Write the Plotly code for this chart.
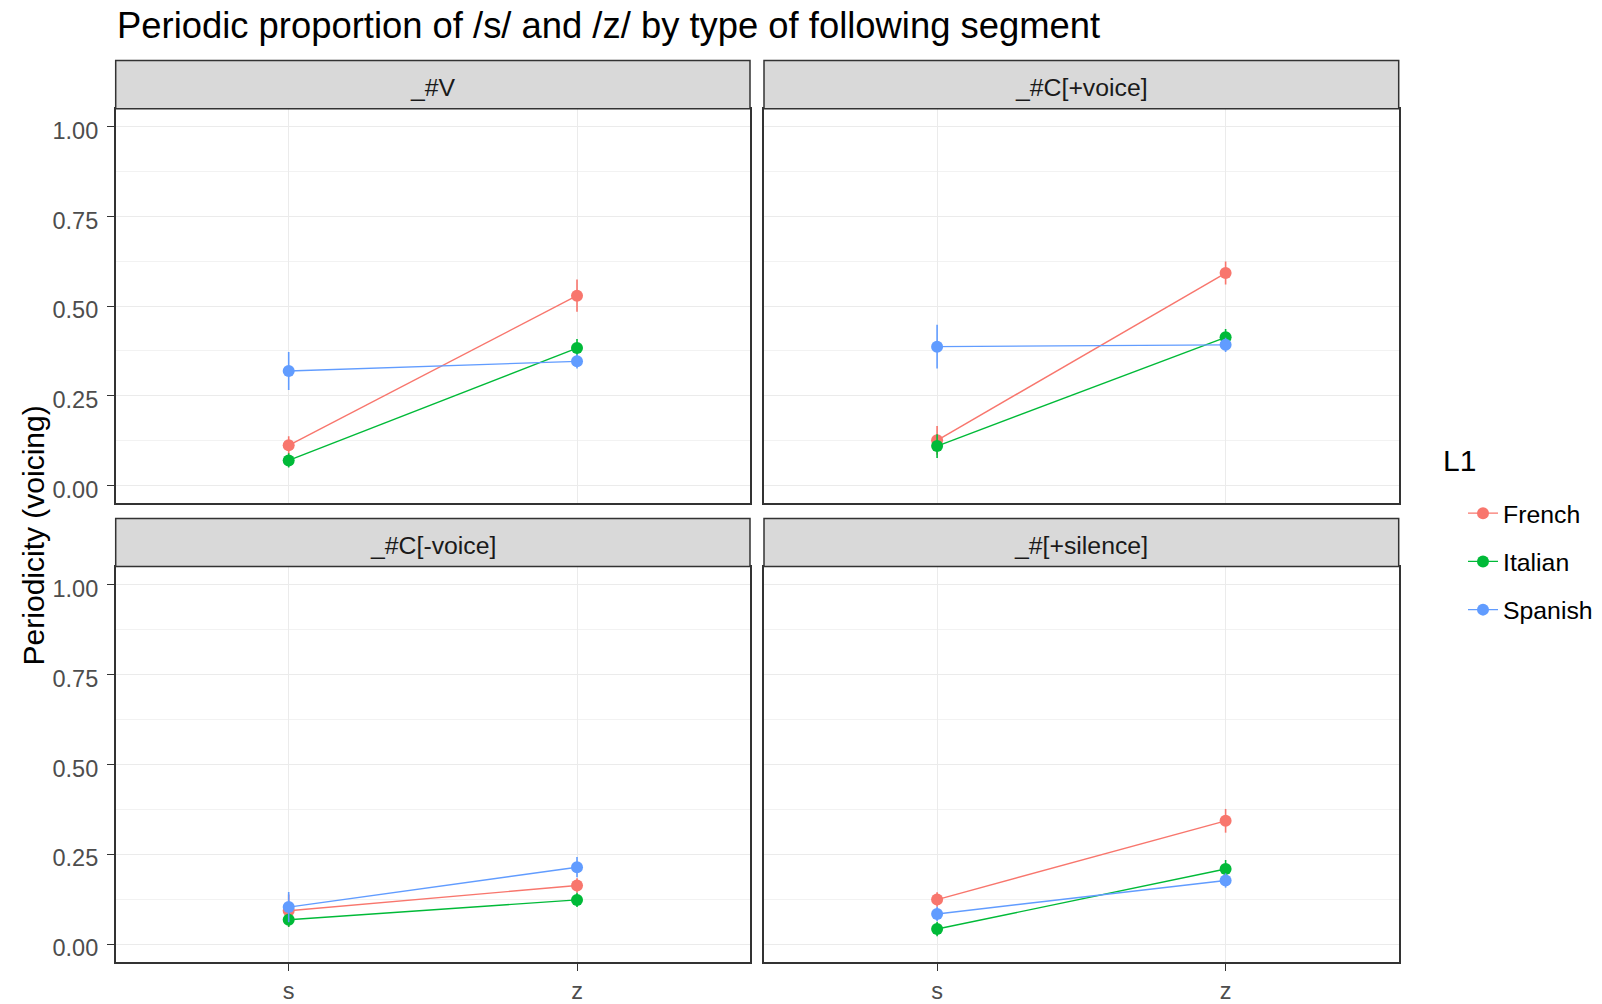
import plotly.graph_objects as go

# Data: mean periodic proportion (voicing) with standard errors
panels = ["_#V", "_#C[+voice]", "_#C[-voice]", "_#[+silence]"]
phonemes = ["s", "z"]
languages = ["French", "Italian", "Spanish"]
colors = {"French": "#F8766D", "Italian": "#00BA38", "Spanish": "#619CFF"}

french_mean = [[0.112, 0.529], [0.126, 0.592], [0.093, 0.163], [0.124, 0.343]]
french_se = [[0.025, 0.045], [0.040, 0.032], [0.045, 0.020], [0.020, 0.033]]
italian_mean = [[0.070, 0.383], [0.110, 0.413], [0.068, 0.123], [0.042, 0.209]]
italian_se = [[0.020, 0.025], [0.033, 0.023], [0.020, 0.020], [0.020, 0.025]]
spanish_mean = [[0.319, 0.346], [0.387, 0.392], [0.103, 0.214], [0.084, 0.177]]
spanish_se = [[0.053, 0.020], [0.061, 0.020], [0.042, 0.028], [0.020, 0.020]]

means = {"French": french_mean, "Italian": italian_mean, "Spanish": spanish_mean}
ses = {"French": french_se, "Italian": italian_se, "Spanish": spanish_se}

W, H = 1602, 1004
FONT = "Liberation Sans, Arial, sans-serif"

# Panel geometry in pixels (left, right) and (strip top, plot top, plot bottom)
cols_px = [(115.7, 750.0), (764.0, 1398.7)]
rows_px = [(60.7, 109.0, 505.0), (520.0, 568.3, 965.0)]


def px_x(v):
    return v / W


def px_y(v):
    return 1 - v / H


fig = go.Figure()
layout = {}
shapes = []
annotations = []

for i, panel in enumerate(panels):
    r, c = divmod(i, 2)
    x0, x1 = cols_px[c]
    st, pt, pb = rows_px[r]
    n = i + 1
    xa = "x" if n == 1 else f"x{n}"
    ya = "y" if n == 1 else f"y{n}"
    xkey = "xaxis" if n == 1 else f"xaxis{n}"
    ykey = "yaxis" if n == 1 else f"yaxis{n}"

    for lang in languages:
        fig.add_trace(go.Scatter(
            x=phonemes,
            y=means[lang][i],
            error_y=dict(type="data", array=ses[lang][i], visible=True,
                         color=colors[lang], thickness=1.6, width=0),
            mode="lines+markers",
            line=dict(color=colors[lang], width=1.4),
            marker=dict(color=colors[lang], size=12),
            name=lang,
            legendgroup=lang,
            showlegend=(i == 0),
            xaxis=xa, yaxis=ya,
        ))

    bottom = (r == 1)
    left = (c == 0)
    layout[xkey] = dict(
        domain=[px_x(x0), px_x(x1)],
        anchor=ya,
        type="category",
        categoryorder="array", categoryarray=phonemes,
        range=[-0.6, 1.6],
        showgrid=True, gridcolor="#EBEBEB", gridwidth=1.3,
        showline=True, linecolor="#333333", linewidth=1.5, mirror=True,
        ticks="outside" if bottom else "", ticklen=7, tickwidth=1.3, tickcolor="#333333",
        showticklabels=bottom,
        tickfont=dict(family=FONT, size=23.5, color="#4D4D4D"),
        zeroline=False, fixedrange=True,
    )
    layout[ykey] = dict(
        domain=[px_y(pb), px_y(pt)],
        anchor=xa,
        range=[-0.05, 1.05],
        tickvals=[0, 0.25, 0.5, 0.75, 1.0],
        ticktext=["0.00", "0.25", "0.50", "0.75", "1.00"],
        showgrid=True, gridcolor="#EBEBEB", gridwidth=1.3,
        minor=dict(showgrid=True, gridcolor="#F2F2F2", gridwidth=0.8,
                   tickvals=[0.125, 0.375, 0.625, 0.875]),
        showline=True, linecolor="#333333", linewidth=1.5, mirror=True,
        ticks="outside" if left else "", ticklen=7, tickwidth=1.3, tickcolor="#333333",
        showticklabels=left,
        ticklabelstandoff=4,
        ticklabelshift=4,
        tickfont=dict(family=FONT, size=23.5, color="#4D4D4D"),
        zeroline=False, fixedrange=True,
    )

    # Facet strip
    shapes.append(dict(type="rect", xref="paper", yref="paper",
                       x0=px_x(x0), x1=px_x(x1), y0=px_y(pt), y1=px_y(st),
                       fillcolor="#D9D9D9", line=dict(color="#333333", width=1.5),
                       layer="above"))
    annotations.append(dict(text=panel, xref="paper", yref="paper",
                            x=px_x((x0 + x1) / 2), y=px_y((st + pt) / 2 + 2.5),
                            xanchor="center", yanchor="middle", showarrow=False,
                            font=dict(family=FONT, size=24.8, color="#1A1A1A")))

annotations.append(dict(text="Periodic proportion of /s/ and /z/ by type of following segment",
                        xref="paper", yref="paper", x=px_x(115), y=px_y(26),
                        xanchor="left", yanchor="middle", showarrow=False,
                        font=dict(family=FONT, size=36.4, color="#000000")))
annotations.append(dict(text="Periodicity (voicing)", xref="paper", yref="paper",
                        x=px_x(33), y=px_y(537), xanchor="center", yanchor="middle",
                        textangle=-90, showarrow=False,
                        font=dict(family=FONT, size=30, color="#000000")))
# Legend title
annotations.append(dict(text="L1", xref="paper", yref="paper",
                        x=px_x(1441), y=px_y(462), xanchor="left", yanchor="middle",
                        showarrow=False,
                        font=dict(family=FONT, size=30, color="#000000")))

fig.update_layout(
    width=W, height=H,
    margin=dict(l=0, r=0, t=0, b=0),
    paper_bgcolor="white", plot_bgcolor="white",
    shapes=shapes, annotations=annotations,
    legend=dict(
        font=dict(family=FONT, size=24.8, color="#000000"),
        x=px_x(1463), y=px_y(492), xanchor="left", yanchor="top",
        traceorder="grouped", tracegroupgap=13,
        bgcolor="rgba(0,0,0,0)",
    ),
    **layout,
)

fig.write_html("out.html")
